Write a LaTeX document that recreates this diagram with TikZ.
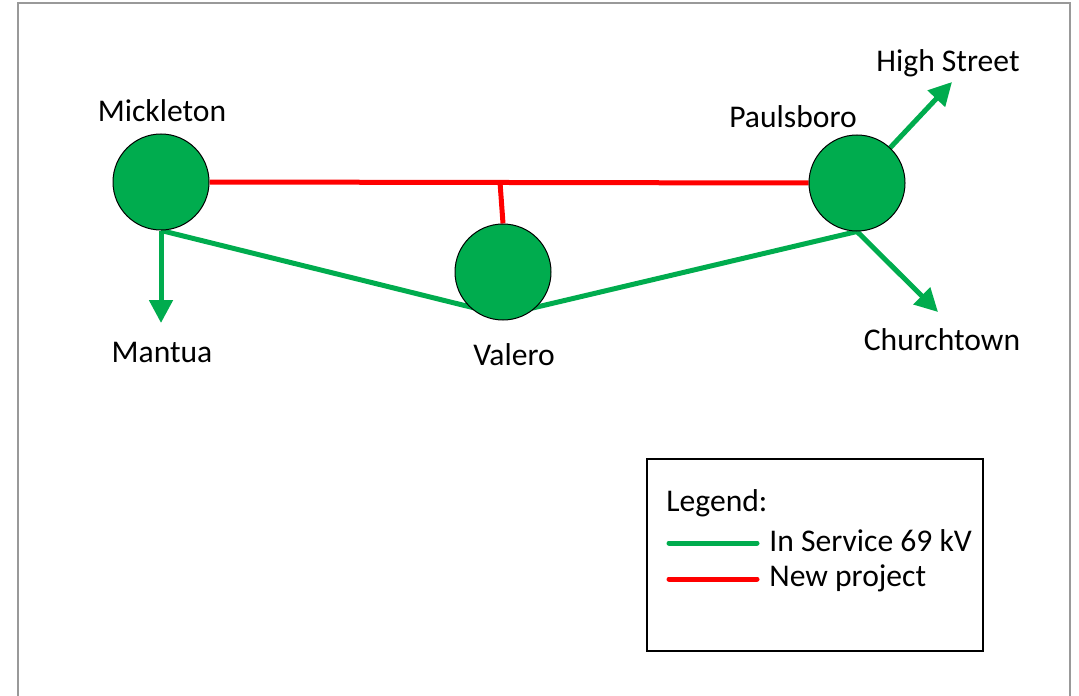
\documentclass[tikz,border=0pt]{standalone}
\usepackage{fontspec}
\setmainfont{Carlito}
\usetikzlibrary{
  arrows.meta,
  calc,
  backgrounds,
}
\definecolor{linegreen}{HTML}{00AC4E}
\definecolor{linered}{HTML}{FF0000}
\tikzset{
  station/.style={circle,draw=black,line width=0.5pt,fill=linegreen,minimum size=48pt,inner sep=0pt},
  tag/.style={font=\fontsize{15.8}{19}\selectfont,inner sep=0pt},
  inservice/.style={draw=linegreen,line width=2.5pt},
  newline/.style={draw=linered,line width=2.5pt},
  feeder/.style={inservice,-{Triangle[width=11.5pt,length=11.5pt]}},
}

\begin{document}
\begin{tikzpicture}[x=0.5pt,y=-0.5pt]
  \useasboundingbox (0,0) rectangle (1079,695);
  \draw[gray!80,line width=0.8pt] (18,3) rectangle (1070,720);

  % stations
  \node[station] (mick) at (161,182) {};
  \node[station] (paul) at (857,183) {};
  \node[station] (vale) at (503,272) {};

  \node[tag] (mickname) at (162,111) {Mickleton};
  \node[tag] (paulname) at (793,117) {Paulsboro};
  \node[tag] (valename) at (514,355) {Valero};
  \node[tag] (mantname) at (162,352) {Mantua};
  \node[tag] (highname) at (948,63) {High Street};
  \node[tag] (churname) at (942,340) {Churchtown};

  \coordinate (mantend) at (161,323);
  \coordinate (highend) at (952,82);
  \coordinate (churend) at (938,312);
  \coordinate (valelow) at ($(vale.center)+(0,43)$);
  \coordinate (tap) at ($(mick.east)!0.485!(paul.west)$);

  \begin{pgfonlayer}{background}
    \draw[inservice] (mick.south) -- (valelow) -- (paul.south);
    \draw[feeder] (mick.south) -- (mantend);
    \draw[feeder] (paul.center) -- (highend);
    \draw[feeder] (paul.south) -- (churend);
    \draw[newline] (mick.east) -- (paul.west);
    \draw[newline] (tap) -- (vale.north);
  \end{pgfonlayer}

  % legend
  \node[draw=black,line width=1pt,minimum width=168pt,minimum height=96pt,inner sep=0pt] (legend) at (815,555) {};
  \node[tag,anchor=west] (legendname) at (666,503) {Legend:};
  \coordinate (greenleft) at (669,543);
  \coordinate (greenright) at (757,543);
  \coordinate (redleft) at (669,579);
  \coordinate (redright) at (757,579);
  \draw[inservice,line cap=round] (greenleft) -- (greenright);
  \draw[newline,line cap=round] (redleft) -- (redright);
  \node[tag,anchor=west] (greenname) at (769,541) {In Service 69 kV};
  \node[tag,anchor=west] (redname) at (769,578) {New project};
\end{tikzpicture}
\end{document}
